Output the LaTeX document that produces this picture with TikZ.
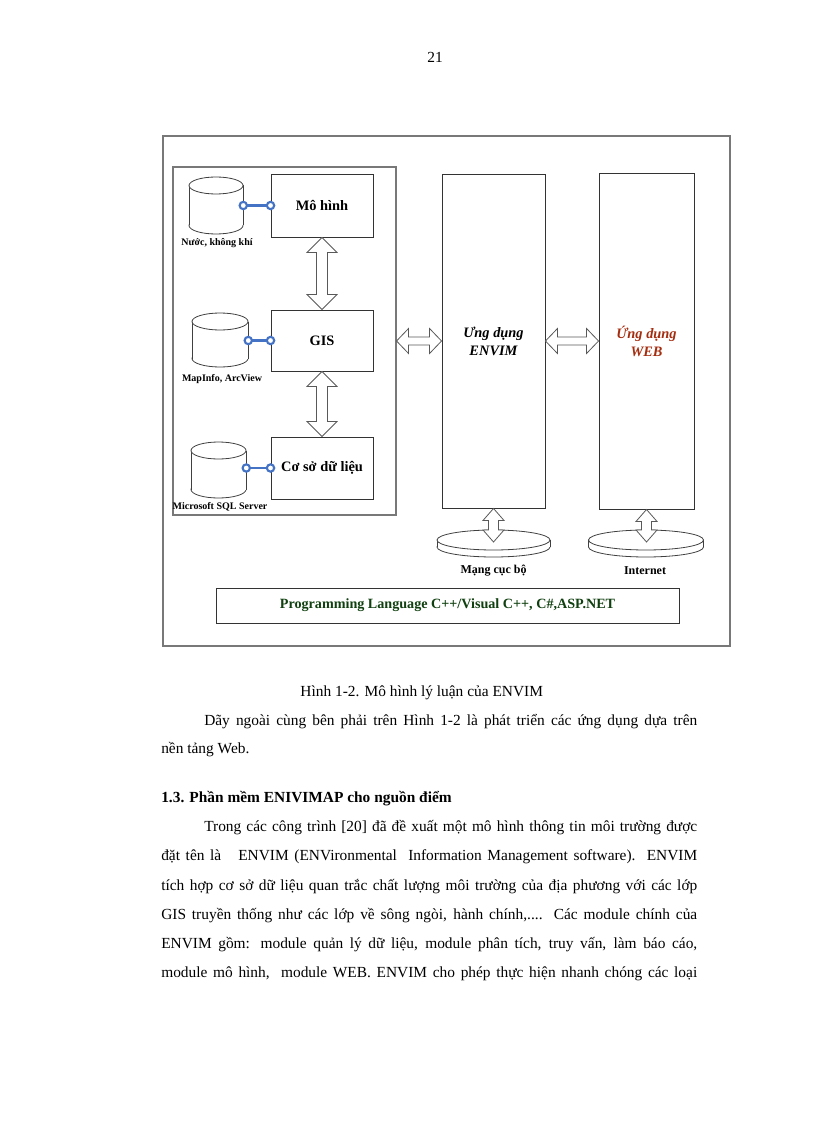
\documentclass[tikz,border=0pt]{standalone}
\usepackage{fontspec}
\setmainfont{Liberation Serif}
\usetikzlibrary{calc}
\definecolor{conblue}{RGB}{68,114,196}
\definecolor{webred}{RGB}{165,45,15}
\definecolor{langgreen}{RGB}{16,64,16}
\definecolor{framegray}{RGB}{120,120,120}

% double block arrow between two points: #1 start, #2 end, #3 head half-width, #4 shaft half-width, #5 head length
\newcommand{\dblarrow}[5]{%
  \path (#1) coordinate (dA) (#2) coordinate (dB);
  \path ($(dA)!#5!(dB)$) coordinate (dHA) ($(dB)!#5!(dA)$) coordinate (dHB);
  \draw[blockarrow] (dA) -- ($(dHA)!#3!90:(dB)$) -- ($(dHA)!#4!90:(dB)$)
     -- ($(dHB)!#4!-90:(dA)$) -- ($(dHB)!#3!-90:(dA)$) -- (dB)
     -- ($(dHB)!#3!90:(dA)$) -- ($(dHB)!#4!90:(dA)$)
     -- ($(dHA)!#4!-90:(dB)$) -- ($(dHA)!#3!-90:(dB)$) -- cycle;
}
% upright cylinder: #1 name, #2 cx, #3 cy, #4 rx, #5 ry, #6 total height
\newcommand{\drawcyl}[6]{%
  \pgfmathsetmacro\cyT{#3-#6/2+#5}%
  \pgfmathsetmacro\cyB{#3+#6/2-#5}%
  \pgfmathsetmacro\cxL{#2-#4}%
  \pgfmathsetmacro\cxR{#2+#4}%
  \draw[shapeline, fill=white] (#2,\cyB) ellipse [x radius=#4, y radius=#5];
  \fill[white] (\cxL,\cyT) rectangle (\cxR,\cyB);
  \draw[shapeline] (\cxL,\cyT) -- (\cxL,\cyB) (\cxR,\cyT) -- (\cxR,\cyB);
  \draw[shapeline, fill=white] (#2,\cyT) ellipse [x radius=#4, y radius=#5];
  \node[inner sep=0pt, minimum width={#4*1.5pt}, minimum height={#6*0.75pt}] (#1) at (#2,#3) {};
}
% flat disk: #1 name, #2 cx, #3 cy (top ellipse), #4 rx, #5 ry, #6 thickness
\newcommand{\drawdisk}[6]{%
  \pgfmathsetmacro\dyB{#3+#6}%
  \pgfmathsetmacro\dxL{#2-#4}%
  \pgfmathsetmacro\dxR{#2+#4}%
  \draw[shapeline, fill=white] (#2,\dyB) ellipse [x radius=#4, y radius=#5];
  \fill[white] (\dxL,#3) rectangle (\dxR,\dyB);
  \draw[shapeline] (\dxL,#3) -- (\dxL,\dyB) (\dxR,#3) -- (\dxR,\dyB);
  \draw[shapeline, fill=white] (#2,#3) ellipse [x radius=#4, y radius=#5];
  \node[inner sep=0pt, minimum width={#4*1.5pt}, minimum height={#5*1.5pt}] (#1) at (#2,#3) {};
}

\begin{document}
\begin{tikzpicture}[x=0.75pt, y=-0.75pt,
  frame/.style={draw=framegray, line width=0.8pt},
  box/.style={draw=black!80, line width=0.7pt, fill=white, inner sep=0pt},
  shapeline/.style={draw=black!75, line width=0.6pt},
  blockarrow/.style={draw=black!65, fill=white, line width=0.6pt, line join=miter},
  boxlabel/.style={font=\fontsize{10.8}{13}\selectfont\bfseries},
  applabel/.style={font=\fontsize{10.8}{13.5}\selectfont\bfseries\itshape, align=center},
  lbl/.style={font=\fontsize{7.5}{9}\selectfont\bfseries, inner sep=0pt},
  netlbl/.style={font=\fontsize{9}{11}\selectfont\bfseries, inner sep=0pt},
  link/.style={draw=conblue, line width=1.7pt},
  linkend/.style={circle, draw=conblue, fill=white, line width=1.6pt, minimum size=5.5pt, inner sep=0pt},
  body/.style={font=\fontsize{11.55}{14}\selectfont, anchor=base west, inner sep=0pt},
  bodyc/.style={font=\fontsize{11.55}{14}\selectfont, anchor=base, inner sep=0pt}
]
\useasboundingbox (0,0) rectangle (816,1123);
\fill[white] (0,0) rectangle (816,1123);

% page number
\node[bodyc] (pagenum) at (435,63) {21};

% outer frame
\draw[frame] (163,136) rectangle (730,646);

% inner frame
\node[frame, inner sep=0pt, minimum width=167.25pt, minimum height=261pt] (inner) at (284.5,341) {};

% model boxes
\node[box, boxlabel, minimum width=76.5pt, minimum height=47.25pt] (mo) at (322,205.5) {Mô hình};
\node[box, boxlabel, minimum width=76.5pt, minimum height=45.75pt] (gis) at (322,340.5) {GIS};
\node[box, boxlabel, minimum width=76.5pt, minimum height=46.5pt] (csdl) at (322,468) {Cơ sở dữ liệu};

% cylinders
\drawcyl{cyl1}{216}{205.5}{27}{8.5}{57}
\drawcyl{cyl2}{220}{340}{28}{8.5}{54}
\drawcyl{cyl3}{218.5}{470}{27.5}{8.5}{56}

\node[lbl] (l1) at (217,243) {Nước, không khí};
\node[lbl] (l2) at (222,379) {MapInfo, ArcView};
\node[lbl] (l3) at (220,507) {Microsoft SQL Server};

% blue links
\draw[link] (cyl1.east |- mo.west) -- (mo.west)
  node[linkend, pos=0] (k1a) {} node[linkend, pos=1] (k1b) {};
\draw[link] (cyl2.east |- gis.west) -- (gis.west)
  node[linkend, pos=0] (k2a) {} node[linkend, pos=1] (k2b) {};
\draw[link] (cyl3.east |- csdl.west) -- (csdl.west)
  node[linkend, pos=0] (k3a) {} node[linkend, pos=1] (k3b) {};

% application boxes
\node[box, applabel, minimum width=77.25pt, minimum height=250.5pt] (envim) at (493.5,341) {Ưng dụng\\ENVIM};
\node[box, applabel, text=webred, minimum width=71.25pt, minimum height=252pt] (web) at (646.5,341) {Ứng dụng\\WEB};

% disks
\drawdisk{disk1}{493.5}{540}{56.5}{10}{7}
\drawdisk{disk2}{646}{540}{57.5}{10}{7}
\node[netlbl] (n1) at (493.5,571) {Mạng cục bộ};
\node[netlbl] (n2) at (645,571) {Internet};

% block arrows
\dblarrow{mo.south}{gis.north}{11.25pt}{4.125pt}{11.25pt}
\dblarrow{gis.south}{csdl.north}{11.25pt}{4.125pt}{11.25pt}
\dblarrow{inner.east}{envim.west |- inner.east}{9.375pt}{3pt}{9pt}
\dblarrow{envim.east}{web.west |- envim.east}{9.375pt}{3pt}{9pt}
\dblarrow{envim.south}{envim.south |- 0,542}{7.875pt}{3.75pt}{9pt}
\dblarrow{web.south}{web.south |- 0,542}{7.875pt}{3.75pt}{9pt}

% programming language bar
\node[box, font=\fontsize{10.6}{13}\selectfont\bfseries, text=langgreen, minimum width=347.25pt, minimum height=26.25pt] (lang) at (447.5,605.5) {Programming Language C++/Visual C++, C\#,ASP.NET};

% caption and body text
\node[bodyc] (cap) at (421.7,696) {Hình 1-2. Mô hình lý luận của ENVIM};
\node[body] (t1) at (204,725) {\makebox[369.75pt][s]{Dãy ngoài cùng bên phải trên Hình 1-2 là phát triển các ứng dụng dựa trên}};
\node[body] (t2) at (161,753) {nền tảng Web.};
\node[body, font=\fontsize{11.55}{14}\selectfont\bfseries] (h13) at (161,802) {1.3. Phần mềm ENIVIMAP cho nguồn điểm};
\node[body] (t3) at (204,831) {\makebox[369.75pt][s]{Trong các công trình [20] đã đề xuất một mô hình thông tin môi trường được}};
\node[body] (t4) at (161,860.5) {\makebox[402pt][s]{đặt tên là\ \ \ ENVIM (ENVironmental\ \ Information Management software).\ \ ENVIM}};
\node[body] (t5) at (161,890) {\makebox[402pt][s]{tích hợp cơ sở dữ liệu quan trắc chất lượng môi trường của địa phương với các lớp}};
\node[body] (t6) at (161,919) {\makebox[402pt][s]{GIS truyền thống như các lớp về sông ngòi, hành chính,.... Các module chính của}};
\node[body] (t7) at (161,948) {\makebox[402pt][s]{ENVIM gồm: module quản lý dữ liệu, module phân tích, truy vấn, làm báo cáo,}};
\node[body] (t8) at (161,977) {\makebox[402pt][s]{module mô hình,\ \ module WEB. ENVIM cho phép thực hiện nhanh chóng các loại}};
\end{tikzpicture}
\end{document}
